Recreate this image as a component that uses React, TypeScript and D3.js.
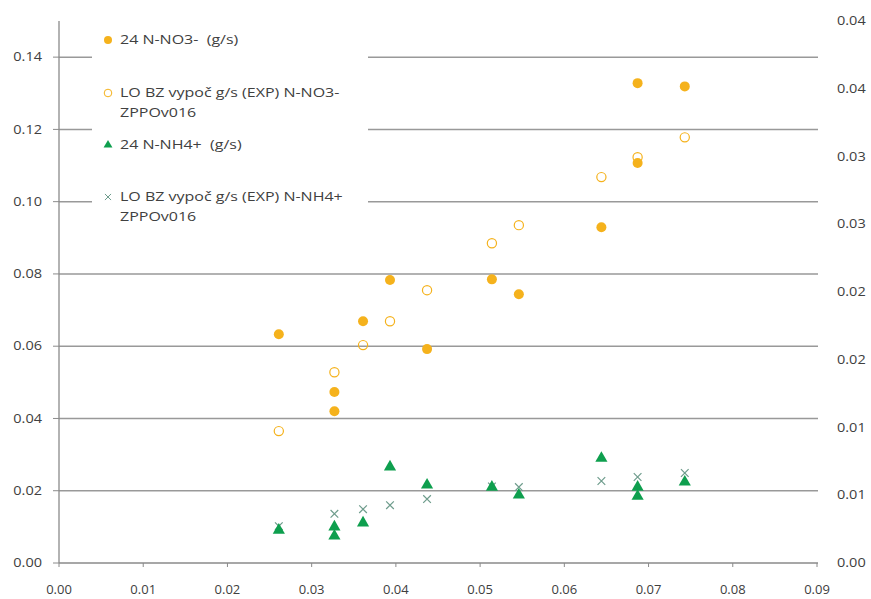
import * as d3 from "d3";

// x values (g/s) shared by the measured points
const xNo3 = [0.0261, 0.0327, 0.0327, 0.0361, 0.0393, 0.0437, 0.0514, 0.0546, 0.0644, 0.0687, 0.0687, 0.0743];
const yNo3 = [0.0633, 0.0473, 0.042, 0.0669, 0.0783, 0.0592, 0.0785, 0.0744, 0.0929, 0.1328, 0.1107, 0.1319];

const xNo3Model = [0.0261, 0.0327, 0.0361, 0.0393, 0.0437, 0.0514, 0.0546, 0.0644, 0.0687, 0.0743];
const yNo3Model = [0.0365, 0.0528, 0.0603, 0.0669, 0.0755, 0.0885, 0.0935, 0.1068, 0.1123, 0.1178];

const xNh4 = [0.0261, 0.0327, 0.0327, 0.0361, 0.0393, 0.0437, 0.0514, 0.0546, 0.0644, 0.0687, 0.0687, 0.0743];
const yNh4 = [0.0091, 0.01, 0.0075, 0.0111, 0.0266, 0.0216, 0.021, 0.0188, 0.029, 0.021, 0.0185, 0.0224];

const xNh4Model = [0.0261, 0.0327, 0.0361, 0.0393, 0.0437, 0.0514, 0.0546, 0.0644, 0.0687, 0.0743];
const yNh4Model = [0.0102, 0.0136, 0.0149, 0.016, 0.0177, 0.0212, 0.021, 0.0227, 0.0238, 0.0249];

const xTicks = d3.range(0, 0.0901, 0.01);
const yTicks = d3.range(0, 0.1401, 0.02);
const rightTicks = d3.range(0, 0.0401, 0.005);
const rightTickLabels = ["0.00", "0.01", "0.01", "0.02", "0.02", "0.03", "0.03", "0.04", "0.04"];

const legendLines = [
  ["24 N-NO3-  (g/s)"],
  ["LO BZ vypoč g/s (EXP) N-NO3-", "ZPPOv016"],
  ["24 N-NH4+  (g/s)"],
  ["LO BZ vypoč g/s (EXP) N-NH4+", "ZPPOv016"],
];

const ORANGE = "#F5B21C";
const GREEN = "#0E9F4E";
const XCOL = "#6E9C8C";
const TXT = "#404040";
const FONT = "'Open Sans', sans-serif";
const SX = 1.23;

const W = 871;
const H = 599;
const left = 59;
const right = 818;
const top = 21;
const bottom = 563;

export default function App() {
  const x = d3.scaleLinear().domain([0, 0.09]).range([left, right - 1]);
  const y = d3.scaleLinear().domain([0, 0.15]).range([bottom, top]);
  const yR = d3.scaleLinear().domain([0, 0.04]).range([bottom, top]);
  const fmt = d3.format(".2f");
  const tri = d3.symbol(d3.symbolTriangle, 64)()!;
  const legendY = [40, 93, 145, 197];

  return (
    <svg width={W} height={H} style={{ position: "absolute", left: 0, top: 0, background: "#fff" }}>
      {/* gridlines */}
      {yTicks.slice(1).map((t) => (
        <line key={"g" + t} x1={left} x2={right} y1={y(t)} y2={y(t)} stroke="#999" strokeWidth={1.5} />
      ))}
      {/* axes */}
      <line x1={left} x2={left} y1={top} y2={bottom} stroke="#8a8a8a" strokeWidth={1.3} />
      <line x1={left} x2={right} y1={bottom} y2={bottom} stroke="#8a8a8a" strokeWidth={1.3} />
      {yTicks.map((t) => (
        <g key={"yl" + t}>
          <line x1={left - 6} x2={left} y1={y(t)} y2={y(t)} stroke="#8a8a8a" />
          <text
            transform={`translate(42,${y(t)}) scale(${SX},1)`}
            textAnchor="end"
            dy="0.35em"
            fontFamily={FONT}
            fontSize={11.8}
            fill={TXT}
          >
            {fmt(t)}
          </text>
        </g>
      ))}
      {xTicks.map((t) => (
        <g key={"xl" + t}>
          <line x1={x(t)} x2={x(t)} y1={bottom} y2={bottom + 4} stroke="#8a8a8a" />
          <text x={x(t)} y={594} textAnchor="middle" fontFamily={FONT} fontSize={13} fill={TXT}>
            {fmt(t)}
          </text>
        </g>
      ))}
      {rightTicks.map((t, i) => (
        <text
          key={"yr" + i}
          transform={`translate(837,${yR(t)}) scale(${SX},1)`}
          dy="0.35em"
          fontFamily={FONT}
          fontSize={11.8}
          fill={TXT}
        >
          {rightTickLabels[i]}
        </text>
      ))}

      {/* points */}
      {xNo3Model.map((v, i) => (
        <circle key={"om" + i} cx={x(v)} cy={y(yNo3Model[i])} r={4.6} fill="none" stroke={ORANGE} strokeWidth={1.2} />
      ))}
      {xNo3.map((v, i) => (
        <circle key={"o" + i} cx={x(v)} cy={y(yNo3[i])} r={5} fill={ORANGE} />
      ))}
      {xNh4Model.map((v, i) => (
        <path
          key={"xm" + i}
          d={d3.symbol(d3.symbolX, 40)()!}
          transform={`translate(${x(v)},${y(yNh4Model[i])})`}
          fill="none"
          stroke={XCOL}
          strokeWidth={1.2}
        />
      ))}
      {xNh4.map((v, i) => (
        <path key={"t" + i} d={tri} transform={`translate(${x(v)},${y(yNh4[i])})`} fill={GREEN} />
      ))}

      {/* legend */}
      <rect x={92} y={22} width={276} height={212} fill="#fff" />
      <circle cx={108} cy={legendY[0]} r={4} fill={ORANGE} />
      <circle cx={108} cy={legendY[1]} r={3.8} fill="none" stroke={ORANGE} strokeWidth={1} />
      <path d={d3.symbol(d3.symbolTriangle, 34)()!} transform={`translate(108,${legendY[2]})`} fill={GREEN} />
      <path
        d={d3.symbol(d3.symbolX, 26)()!}
        transform={`translate(108,${legendY[3]})`}
        fill="none"
        stroke={XCOL}
        strokeWidth={1}
      />
      {legendLines.map((lines, i) =>
        lines.map((s, j) => (
          <text
            key={"lg" + i + "-" + j}
            transform={`translate(120,${legendY[i] + j * 20}) scale(1.27,1)`}
            dy="0.35em"
            fontFamily={FONT}
            fontSize={12.6}
            fill={TXT}
            style={{ whiteSpace: "pre" }}
          >
            {s}
          </text>
        ))
      )}
    </svg>
  );
}
